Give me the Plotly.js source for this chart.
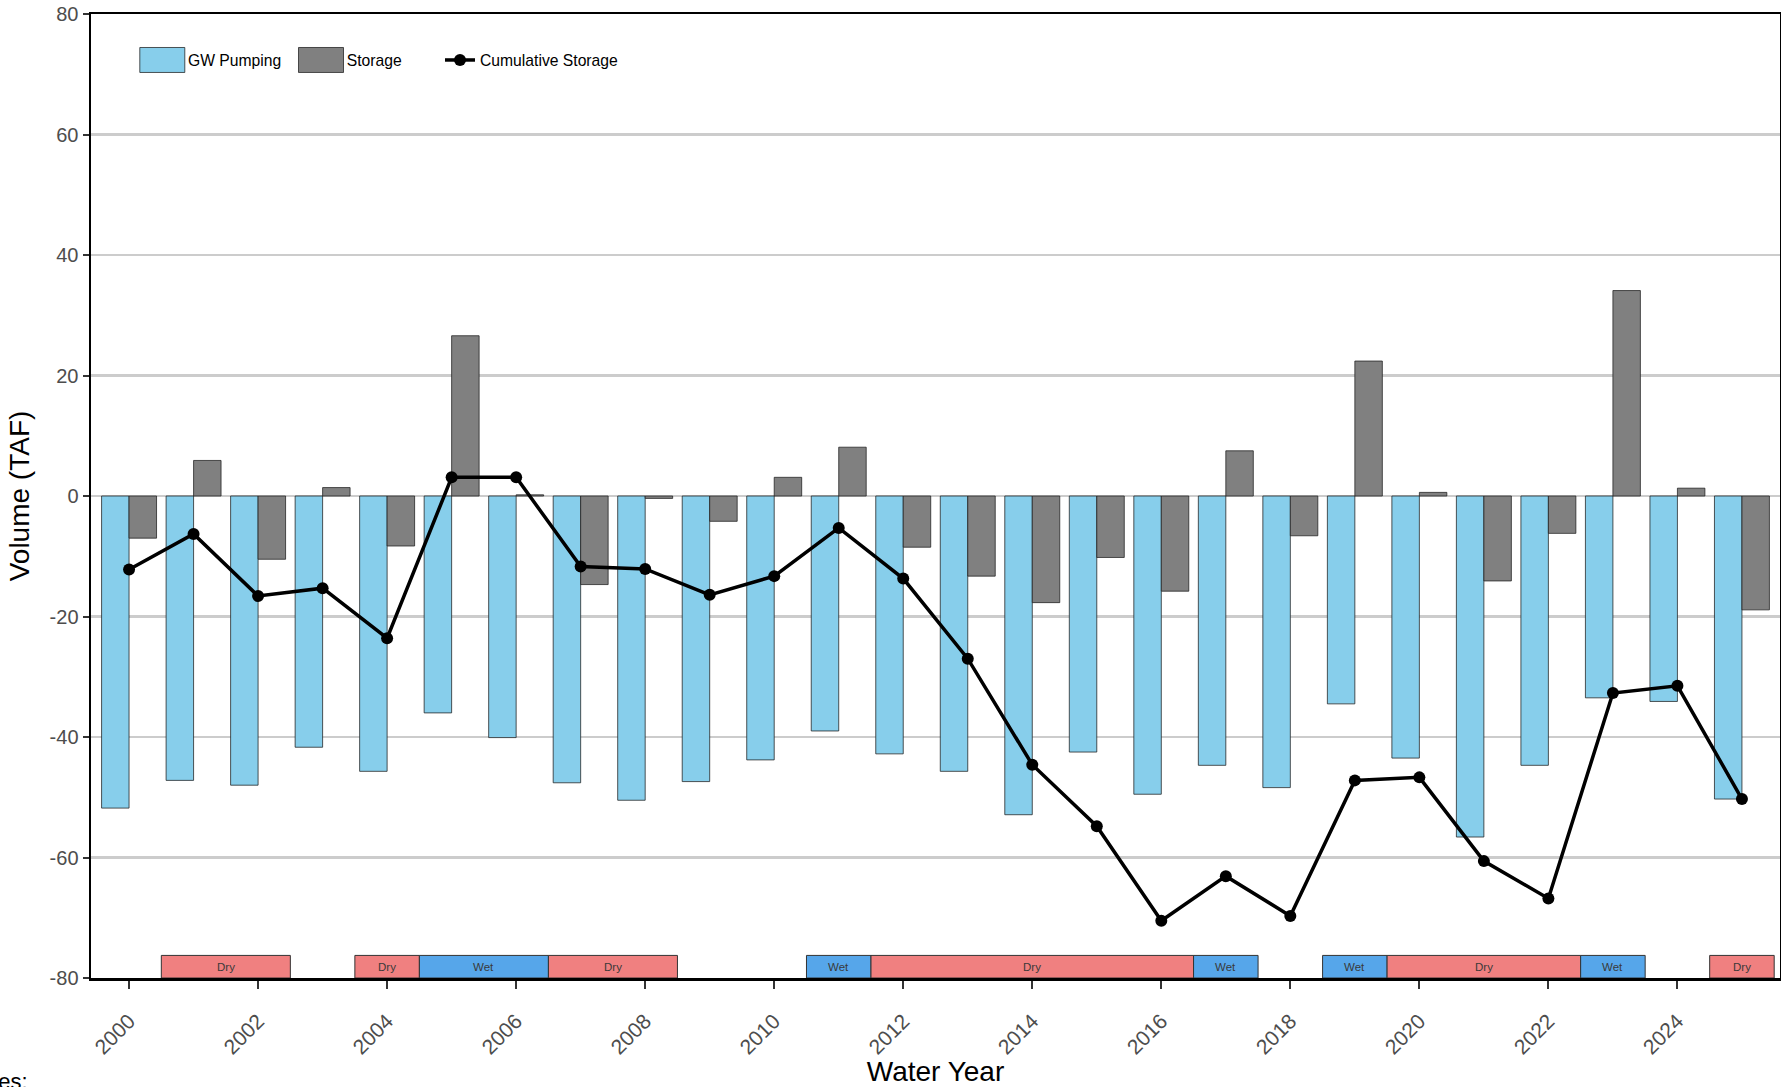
<!DOCTYPE html>
<html>
<head>
<meta charset="utf-8">
<script src="https://cdn.plot.ly/plotly-3.0.1.min.js"></script>
<style>html,body{margin:0;padding:0;background:#fff;}#chart{width:1781px;height:1087px;}</style>
</head>
<body>
<div id="chart"></div>
<script>
const years = [2000,2001,2002,2003,2004,2005,2006,2007,2008,2009,2010,2011,2012,2013,2014,2015,2016,2017,2018,2019,2020,2021,2022,2023,2024,2025];
const gwPumping = [-51.8,-47.2,-48.0,-41.7,-45.7,-36.0,-40.1,-47.6,-50.5,-47.4,-43.8,-39.0,-42.8,-45.7,-52.9,-42.5,-49.5,-44.7,-48.4,-34.5,-43.5,-56.6,-44.7,-33.5,-34.1,-50.3];
const storage = [-7.0,5.9,-10.5,1.4,-8.3,26.6,0.2,-14.7,-0.4,-4.2,3.1,8.1,-8.5,-13.3,-17.7,-10.2,-15.8,7.5,-6.6,22.4,0.6,-14.1,-6.2,34.1,1.3,-18.9];
const cumulativeStorage = [-12.2,-6.3,-16.6,-15.3,-23.6,3.1,3.1,-11.7,-12.1,-16.4,-13.3,-5.3,-13.7,-27.0,-44.6,-54.8,-70.5,-63.1,-69.7,-47.2,-46.7,-60.6,-66.8,-32.7,-31.5,-50.3];
const yearType = ['', 'Dry','Dry','', 'Dry','Wet','Wet','Dry','Dry','','','Wet','Dry','Dry','Dry','Dry','Dry','Wet','','Wet','Dry','Dry','Dry','Wet','','Dry'];
const xTickLabels = ['2000','2002','2004','2006','2008','2010','2012','2014','2016','2018','2020','2022','2024'];
const yTickLabels = ['-80','-60','-40','-20','0','20','40','60','80'];

const FONT = 'Liberation Sans, Arial, sans-serif';
const typeColors = {Dry:'#F08080', Wet:'#56A6EA'};
const bandBottom = -80, bandTop = -76.25;

// runs of consecutive identical year types
const runs = [];
for (let i = 0; i < years.length; i++) {
  const t = yearType[i];
  if (!t) continue;
  const last = runs[runs.length - 1];
  if (last && last.type === t && last.endIdx === i - 1) { last.endIdx = i; }
  else runs.push({type:t, startIdx:i, endIdx:i});
}
const shapes = runs.map(r => ({
  type:'rect', xref:'x', yref:'y', layer:'above',
  x0: years[r.startIdx] - 0.5, x1: years[r.endIdx] + 0.5,
  y0: bandBottom, y1: bandTop,
  fillcolor: typeColors[r.type], line:{color:'#333333', width:1}
}));
const annotations = runs.map(r => ({
  xref:'x', yref:'y', x:(years[r.startIdx] + years[r.endIdx]) / 2, y:(bandBottom + bandTop) / 2,
  text:r.type, showarrow:false, font:{family:FONT, size:11.5, color:'#3a3a3a'}
}));
annotations.push({
  xref:'paper', yref:'paper', x:-0.036, y:-0.107, xanchor:'right', yanchor:'middle',
  text:'Notes:', showarrow:false, font:{family:FONT, size:22, color:'#000'}
});

const traces = [
  {type:'bar', name:'GW Pumping', x:years, y:gwPumping, legend:'legend',
   marker:{color:'#87CEEB', line:{color:'rgba(30,30,30,0.75)', width:1}}},
  {type:'bar', name:'Storage', x:years, y:storage, legend:'legend2',
   marker:{color:'#808080', line:{color:'rgba(30,30,30,0.75)', width:1}}},
  {type:'scatter', mode:'lines+markers', name:'Cumulative Storage', x:years, y:cumulativeStorage, legend:'legend3',
   line:{color:'#000', width:3.5}, marker:{color:'#000', size:12}}
];

// paper x from pixel position of the legend's left edge
const pxToPaper = p => (p - 91) / 1689;
const legendBase = {orientation:'h', y:0.952, xanchor:'left', yanchor:'middle',
  bgcolor:'rgba(0,0,0,0)', borderwidth:0, font:{family:FONT, size:15.7, color:'#000'}};

const layout = {
  width:1781, height:1087,
  margin:{l:91, r:1, t:14, b:109},
  paper_bgcolor:'#fff', plot_bgcolor:'#fff',
  font:{family:FONT, color:'#000'},
  barmode:'group', bargap:0.148, bargroupgap:0,
  showlegend:true,
  legend: Object.assign({}, legendBase, {x:pxToPaper(148)}),
  legend2: Object.assign({}, legendBase, {x:pxToPaper(306.7)}),
  legend3: Object.assign({}, legendBase, {x:pxToPaper(440)}),
  xaxis:{
    range:[1999.41, 2025.59], tickmode:'array',
    tickvals:xTickLabels.map(Number), ticktext:xTickLabels,
    tickangle:-45, ticks:'outside', ticklen:8, tickwidth:2, tickcolor:'#333',
    ticklabelstandoff:12,
    tickfont:{family:FONT, size:21, color:'#4d4d4d'},
    showline:true, linecolor:'#000', linewidth:2.5, mirror:true,
    showgrid:false, zeroline:false,
    title:{text:'Water Year', font:{family:FONT, size:28, color:'#000'}, standoff:8}
  },
  yaxis:{
    range:[-80, 80], tickmode:'array',
    tickvals:yTickLabels.map(Number), ticktext:yTickLabels,
    ticks:'outside', ticklen:6, tickwidth:2, tickcolor:'#333',
    tickfont:{family:FONT, size:20, color:'#4d4d4d'},
    showline:true, linecolor:'#000', linewidth:2.5, mirror:true,
    showgrid:true, gridcolor:'#cccccc', gridwidth:2.5, zeroline:false,
    title:{text:'Volume (TAF)', font:{family:FONT, size:28, color:'#000'}, standoff:12}
  },
  shapes:shapes,
  annotations:annotations
};

Plotly.newPlot('chart', traces, layout, {displayModeBar:false, staticPlot:true}).then(gd => {
  // let the legend swatches extend past the legend boxes
  gd.querySelectorAll('.infolayer g[class^="legend"] [clip-path], .infolayer g[class^="legend"][clip-path]')
    .forEach(el => el.removeAttribute('clip-path'));
  // enlarge the bar swatches to wide rectangles and lengthen the line key, as in the reference
  gd.querySelectorAll('.legendpoints path').forEach(p => {
    const d = p.getAttribute('d') || '';
    const t = p.getAttribute('transform') || '';
    if (d.indexOf('M6,6') === 0) {
      p.setAttribute('transform', t + ' translate(-5.7,0) scale(3.75,2.08)');
      p.setAttribute('vector-effect', 'non-scaling-stroke');
      p.style.strokeWidth = '1px';
    } else if (p.classList.contains('js-line')) {
      p.setAttribute('transform', t + ' translate(-8,0) scale(1.2,1)');
      p.setAttribute('vector-effect', 'non-scaling-stroke');
    }
  });
});
</script>
</body>
</html>
